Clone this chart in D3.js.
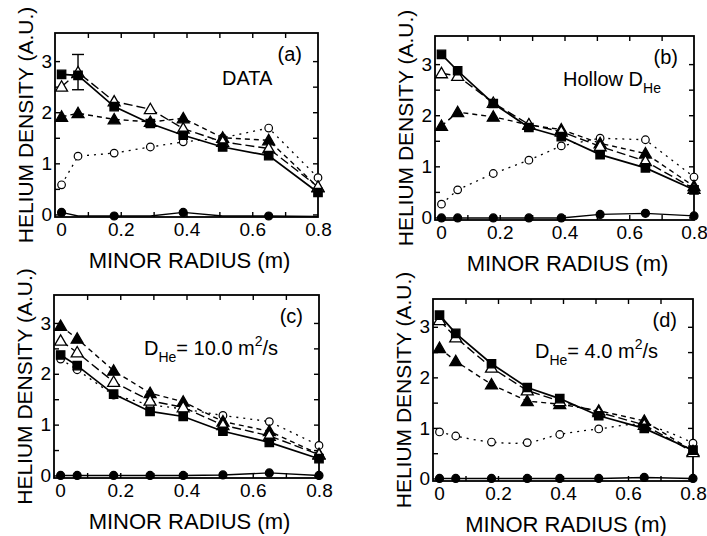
<!DOCTYPE html>
<html>
<head>
<meta charset="utf-8">
<script src="https://cdn.jsdelivr.net/npm/d3@7"></script>
<style>
  body { margin: 0; background: #fff; }
  svg { display: block; font-family: "Liberation Sans", Arial, Helvetica, sans-serif; }
</style>
</head>
<body>
<script>
// radial positions of the measurement chords (m)
const radius = [0.02, 0.07, 0.18, 0.29, 0.39, 0.51, 0.65, 0.80];
const xTicks = [0, 0.2, 0.4, 0.6, 0.8];
const xMinor = [0.1, 0.2, 0.3, 0.4, 0.5, 0.6, 0.7];
const yTicks = [0, 1, 2, 3];
const yMinor = [0, 0.5, 1, 1.5, 2, 2.5, 3];

// (a) DATA
const aSquare   = [2.74, 2.72, 2.11, 1.78, 1.55, 1.32, 1.15, 0.43];
const aOpenTri  = [2.50, 2.78, 2.21, 2.06, 1.68, 1.42, 1.29, 0.54];
const aFillTri  = [1.91, 1.98, 1.86, 1.81, 1.88, 1.50, 1.45, 0.53];
const aOpenCirc = [0.58, 1.14, 1.20, 1.32, 1.42, 1.50, 1.69, 0.72];
const aFillCirc = [0.04, -0.03, -0.03, -0.03, 0.04, -0.03, -0.03, -0.04];
const aFillCircShown = [0, 2, 4, 6];
const aErrorBar = [2.44, 3.13]; // at radius[1]

// (b) Hollow D_He
const bSquare   = [3.19, 2.87, 2.23, 1.76, 1.58, 1.23, 0.97, 0.54];
const bOpenTri  = [2.82, 2.77, 2.24, 1.82, 1.68, 1.39, 1.10, 0.56];
const bFillTri  = [1.79, 2.06, 1.97, 1.81, 1.72, 1.45, 1.25, 0.61];
const bOpenCirc = [0.26, 0.54, 0.86, 1.12, 1.40, 1.55, 1.52, 0.79];
const bFillCirc = [-0.01, -0.01, -0.01, -0.01, -0.01, 0.06, 0.08, 0.03];

// (c) D_He = 10.0 m2/s
const cSquare   = [2.37, 2.16, 1.60, 1.26, 1.16, 0.87, 0.65, 0.33];
const cOpenTri  = [2.65, 2.42, 1.84, 1.47, 1.34, 0.99, 0.78, 0.41];
const cFillTri  = [2.94, 2.69, 2.06, 1.62, 1.45, 1.06, 0.87, 0.42];
const cOpenCirc = [2.29, 2.08, 1.58, 1.39, 1.31, 1.18, 1.06, 0.59];
const cFillCirc = [0, 0, 0, 0, 0, 0.01, 0.05, 0];

// (d) D_He = 4.0 m2/s
const dSquare   = [3.23, 2.87, 2.27, 1.80, 1.58, 1.24, 0.99, 0.56];
const dOpenTri  = [3.13, 2.79, 2.19, 1.74, 1.53, 1.31, 1.06, 0.52];
const dFillTri  = [2.58, 2.32, 1.86, 1.53, 1.47, 1.34, 1.14, 0.54];
const dOpenCirc = [0.92, 0.84, 0.72, 0.71, 0.87, 0.98, 1.06, 0.70];
const dFillCirc = [0, 0, 0, 0, 0, 0, 0.02, 0];

const svg = d3.select("body").append("svg")
    .attr("width", 707)
    .attr("height", 536);

const panels = [
    { left: 55, top: 33, right: 318, bottom: 217, label: "(a)",
      series: [aSquare, aOpenTri, aFillTri, aOpenCirc, aFillCirc],
      circShown: aFillCircShown, errorBar: aErrorBar,
      note: [{ t: "DATA" }], noteX: 222, noteY: 85 },
    { left: 435, top: 36, right: 694, bottom: 220, label: "(b)",
      series: [bSquare, bOpenTri, bFillTri, bOpenCirc, bFillCirc],
      note: [{ t: "Hollow D" }, { t: "He", sub: true }], noteX: 563, noteY: 86 },
    { left: 54, top: 295, right: 319, bottom: 478, label: "(c)",
      series: [cSquare, cOpenTri, cFillTri, cOpenCirc, cFillCirc],
      note: [{ t: "D" }, { t: "He", sub: true }, { t: "= 10.0 m" }, { t: "2", sup: true }, { t: "/s" }],
      noteX: 144, noteY: 355 },
    { left: 433, top: 299, right: 693, bottom: 481, label: "(d)", smoothCirc: true,
      series: [dSquare, dOpenTri, dFillTri, dOpenCirc, dFillCirc],
      note: [{ t: "D" }, { t: "He", sub: true }, { t: "= 4.0 m" }, { t: "2", sup: true }, { t: "/s" }],
      noteX: 535, noteY: 358 }
];

// line style / marker per series: filled square, open triangle, filled triangle, open circle, filled circle
const styles = [
    { dash: null,  width: 1.7, marker: "square",   fill: "#000" },
    { dash: "9,4", width: 1.4, marker: "triangle", fill: "#fff" },
    { dash: "5,4", width: 1.4, marker: "triangle", fill: "#000" },
    { dash: "2,5", width: 1.3, marker: "circle",   fill: "#fff", r: 3.8 },
    { dash: null,  width: 1.4, marker: "circle",   fill: "#000", r: 4 }
];

function drawPanel(p) {
    const x = d3.scaleLinear().domain([0, 0.8]).range([p.left, p.right]);
    const y = d3.scaleLinear().domain([-0.05, 3.55]).range([p.bottom, p.top]);
    const g = svg.append("g");

    // inner ticks on all four sides
    const tickLen = 5;
    const minorAxes = [
        [d3.axisBottom(x).tickValues(xMinor), p.bottom, "y"],
        [d3.axisTop(x).tickValues(xMinor), p.top, "y"],
        [d3.axisLeft(y).tickValues(yMinor), p.left, "x"],
        [d3.axisRight(y).tickValues(yMinor), p.right, "x"]
    ];
    minorAxes.forEach(([ax, pos, dir]) => {
        const a = g.append("g")
            .attr("transform", dir === "y" ? `translate(0,${pos})` : `translate(${pos},0)`)
            .call(ax.tickSize(-tickLen).tickFormat(""));
        a.select(".domain").remove();
        a.selectAll("line").attr("stroke", "#000").attr("stroke-width", 1.4);
    });

    // tick labels
    const xa = g.append("g")
        .attr("transform", `translate(0,${p.bottom})`)
        .call(d3.axisBottom(x).tickValues(xTicks).tickSize(0).tickPadding(6)
            .tickFormat(d => d === 0 ? "0" : d3.format(".1f")(d)));
    xa.select(".domain").remove();
    xa.selectAll("text").attr("font-size", 19).attr("fill", "#000")
        .attr("font-family", "Liberation Sans, Arial, sans-serif")
        .attr("dx", d => d === 0 ? 6 : 0);

    const ya = g.append("g")
        .attr("transform", `translate(${p.left},0)`)
        .call(d3.axisLeft(y).tickValues(yTicks).tickSize(0).tickPadding(3).tickFormat(d3.format("d")));
    ya.select(".domain").remove();
    ya.selectAll("text").attr("font-size", 19).attr("fill", "#000")
        .attr("font-family", "Liberation Sans, Arial, sans-serif");

    // frame
    g.append("rect")
        .attr("x", p.left).attr("y", p.top)
        .attr("width", p.right - p.left).attr("height", p.bottom - p.top)
        .attr("fill", "none").attr("stroke", "#000").attr("stroke-width", 1.8);

    // axis titles
    g.append("text")
        .attr("x", (p.left + p.right) / 2 + 3)
        .attr("y", p.bottom + 51)
        .attr("text-anchor", "middle")
        .attr("font-size", 22)
        .text("MINOR RADIUS (m)");
    g.append("text")
        .attr("transform", `translate(${p.left - 22},${(p.top + p.bottom) / 2}) rotate(-90)`)
        .attr("text-anchor", "middle")
        .attr("font-size", 21)
        .text("HELIUM DENSITY (A.U.)");

    // panel letter and annotation
    g.append("text")
        .attr("x", p.right - 16)
        .attr("y", p.top + 28)
        .attr("text-anchor", "end")
        .attr("font-size", 20)
        .text(p.label);

    const note = g.append("text")
        .attr("x", p.noteX).attr("y", p.noteY)
        .attr("font-size", 20);
    let shift = 0;
    p.note.forEach(n => {
        let dy = 0, size = 20;
        if (n.sub) { dy = 7 - shift; size = 14; shift = 7; }
        else if (n.sup) { dy = -9 - shift; size = 14; shift = -9; }
        else { dy = -shift; shift = 0; }
        note.append("tspan").attr("dy", dy).attr("font-size", size).text(n.t);
    });

    // error bar
    if (p.errorBar) {
        const ex = x(radius[1]);
        const eb = g.append("g").attr("stroke", "#000").attr("stroke-width", 1.4);
        eb.append("line").attr("x1", ex).attr("x2", ex)
            .attr("y1", y(p.errorBar[0])).attr("y2", y(p.errorBar[1]));
        p.errorBar.forEach(v => {
            eb.append("line").attr("x1", ex - 6).attr("x2", ex + 6)
                .attr("y1", y(v)).attr("y2", y(v));
        });
    }

    // lines, back to front: filled circles, open circles, filled tri, open tri, squares
    const order = [4, 3, 2, 1, 0];
    order.forEach(si => {
        const st = styles[si];
        const pts = radius.map((r, i) => [r, p.series[si][i]]);
        const line = d3.line()
            .x(d => x(d[0])).y(d => y(d[1]))
            .curve(si === 3 && p.smoothCirc ? d3.curveCatmullRom : d3.curveLinear);
        g.append("path")
            .attr("d", line(pts))
            .attr("fill", "none")
            .attr("stroke", "#000")
            .attr("stroke-width", st.width)
            .attr("stroke-dasharray", st.dash);
    });

    // markers
    const sym = {
        square: d3.symbol().type(d3.symbolSquare).size(70),
        triangle: d3.symbol().type(d3.symbolTriangle).size(62)
    };
    order.forEach(si => {
        const st = styles[si];
        radius.forEach((r, i) => {
            if (si === 4 && p.circShown && !p.circShown.includes(i)) return;
            const cx = x(r), cy = y(p.series[si][i]);
            if (st.marker === "circle") {
                g.append("circle")
                    .attr("cx", cx).attr("cy", cy).attr("r", st.r)
                    .attr("fill", st.fill).attr("stroke", "#000").attr("stroke-width", 1.2);
            } else {
                g.append("path")
                    .attr("d", sym[st.marker]())
                    .attr("transform", `translate(${cx},${cy + (st.marker === "triangle" ? 1 : 0)})`)
                    .attr("fill", st.fill).attr("stroke", "#000").attr("stroke-width", 1.3);
            }
        });
    });
}

panels.forEach(drawPanel);
</script>
</body>
</html>
